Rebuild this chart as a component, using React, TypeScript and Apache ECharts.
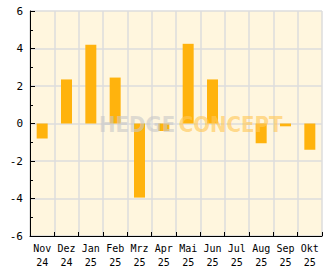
import React, { useEffect, useRef } from "react";
import * as echarts from "echarts";

const categories = ["Nov\n24", "Dez\n24", "Jan\n25", "Feb\n25", "Mrz\n25", "Apr\n25", "Mai\n25", "Jun\n25", "Jul\n25", "Aug\n25", "Sep\n25", "Okt\n25"];
const values = [-0.8, 2.35, 4.2, 2.45, -3.95, -0.4, 4.25, 2.35, 0, -1.05, -0.15, -1.4];
const yMin = -6;
const yMax = 6;
const yInterval = 2;

export default function App() {
  const ref = useRef<HTMLDivElement>(null);
  useEffect(() => {
    if (!ref.current) return;
    const chart = echarts.init(ref.current, undefined, { renderer: "svg" });
    const font = "DejaVu Sans Mono";
    chart.setOption({
      animation: false,
      backgroundColor: "#ffffff",
      grid: {
        left: 30,
        right: 10,
        top: 11,
        bottom: 30,
        show: true,
        backgroundColor: "#fff6de",
        borderWidth: 0,
      },
      xAxis: {
        type: "category",
        data: categories,
        boundaryGap: true,
        axisLine: { show: true, onZero: false, lineStyle: { color: "#000", width: 1 } },
        axisTick: { show: true, inside: true, length: 4, lineStyle: { color: "#000" } },
        axisLabel: { color: "#000", fontFamily: font, fontSize: 10, lineHeight: 14, margin: 5, interval: 0 },
        splitLine: { show: true, lineStyle: { color: "#dcdcdc", width: 1.5 } },
      },
      yAxis: {
        type: "value",
        min: yMin,
        max: yMax,
        interval: yInterval,
        axisLine: { show: true, lineStyle: { color: "#000", width: 1 } },
        axisTick: { show: true, inside: true, length: 5, lineStyle: { color: "#000" } },
        minorTick: { show: true, splitNumber: 2, length: 3, lineStyle: { color: "#000" } },
        axisLabel: { color: "#000", fontFamily: font, fontSize: 11, margin: 7 },
        splitLine: { show: true, lineStyle: { color: "#dcdcdc", width: 1.5 } },
      },
      graphic: [
        {
          type: "text",
          left: 99,
          top: 113,
          z: 100,
          style: {
            text: "{a|HEDGE} {b|CONCEPT}",
            rich: {
              a: { fill: "rgba(200,200,200,0.6)", fontFamily: "DejaVu Sans Condensed", fontWeight: "bold", fontSize: 22 },
              b: { fill: "rgba(255,200,90,0.65)", fontFamily: "DejaVu Sans Condensed", fontWeight: "bold", fontSize: 22 },
            },
          },
        },
      ],
      series: [
        {
          type: "bar",
          data: values,
          barWidth: 11,
          itemStyle: { color: "#ffb30d" },
        },
      ],
    });
    return () => chart.dispose();
  }, []);
  return <div ref={ref} style={{ width: 332, height: 269, position: "absolute", left: 0, top: 0 }} />;
}
